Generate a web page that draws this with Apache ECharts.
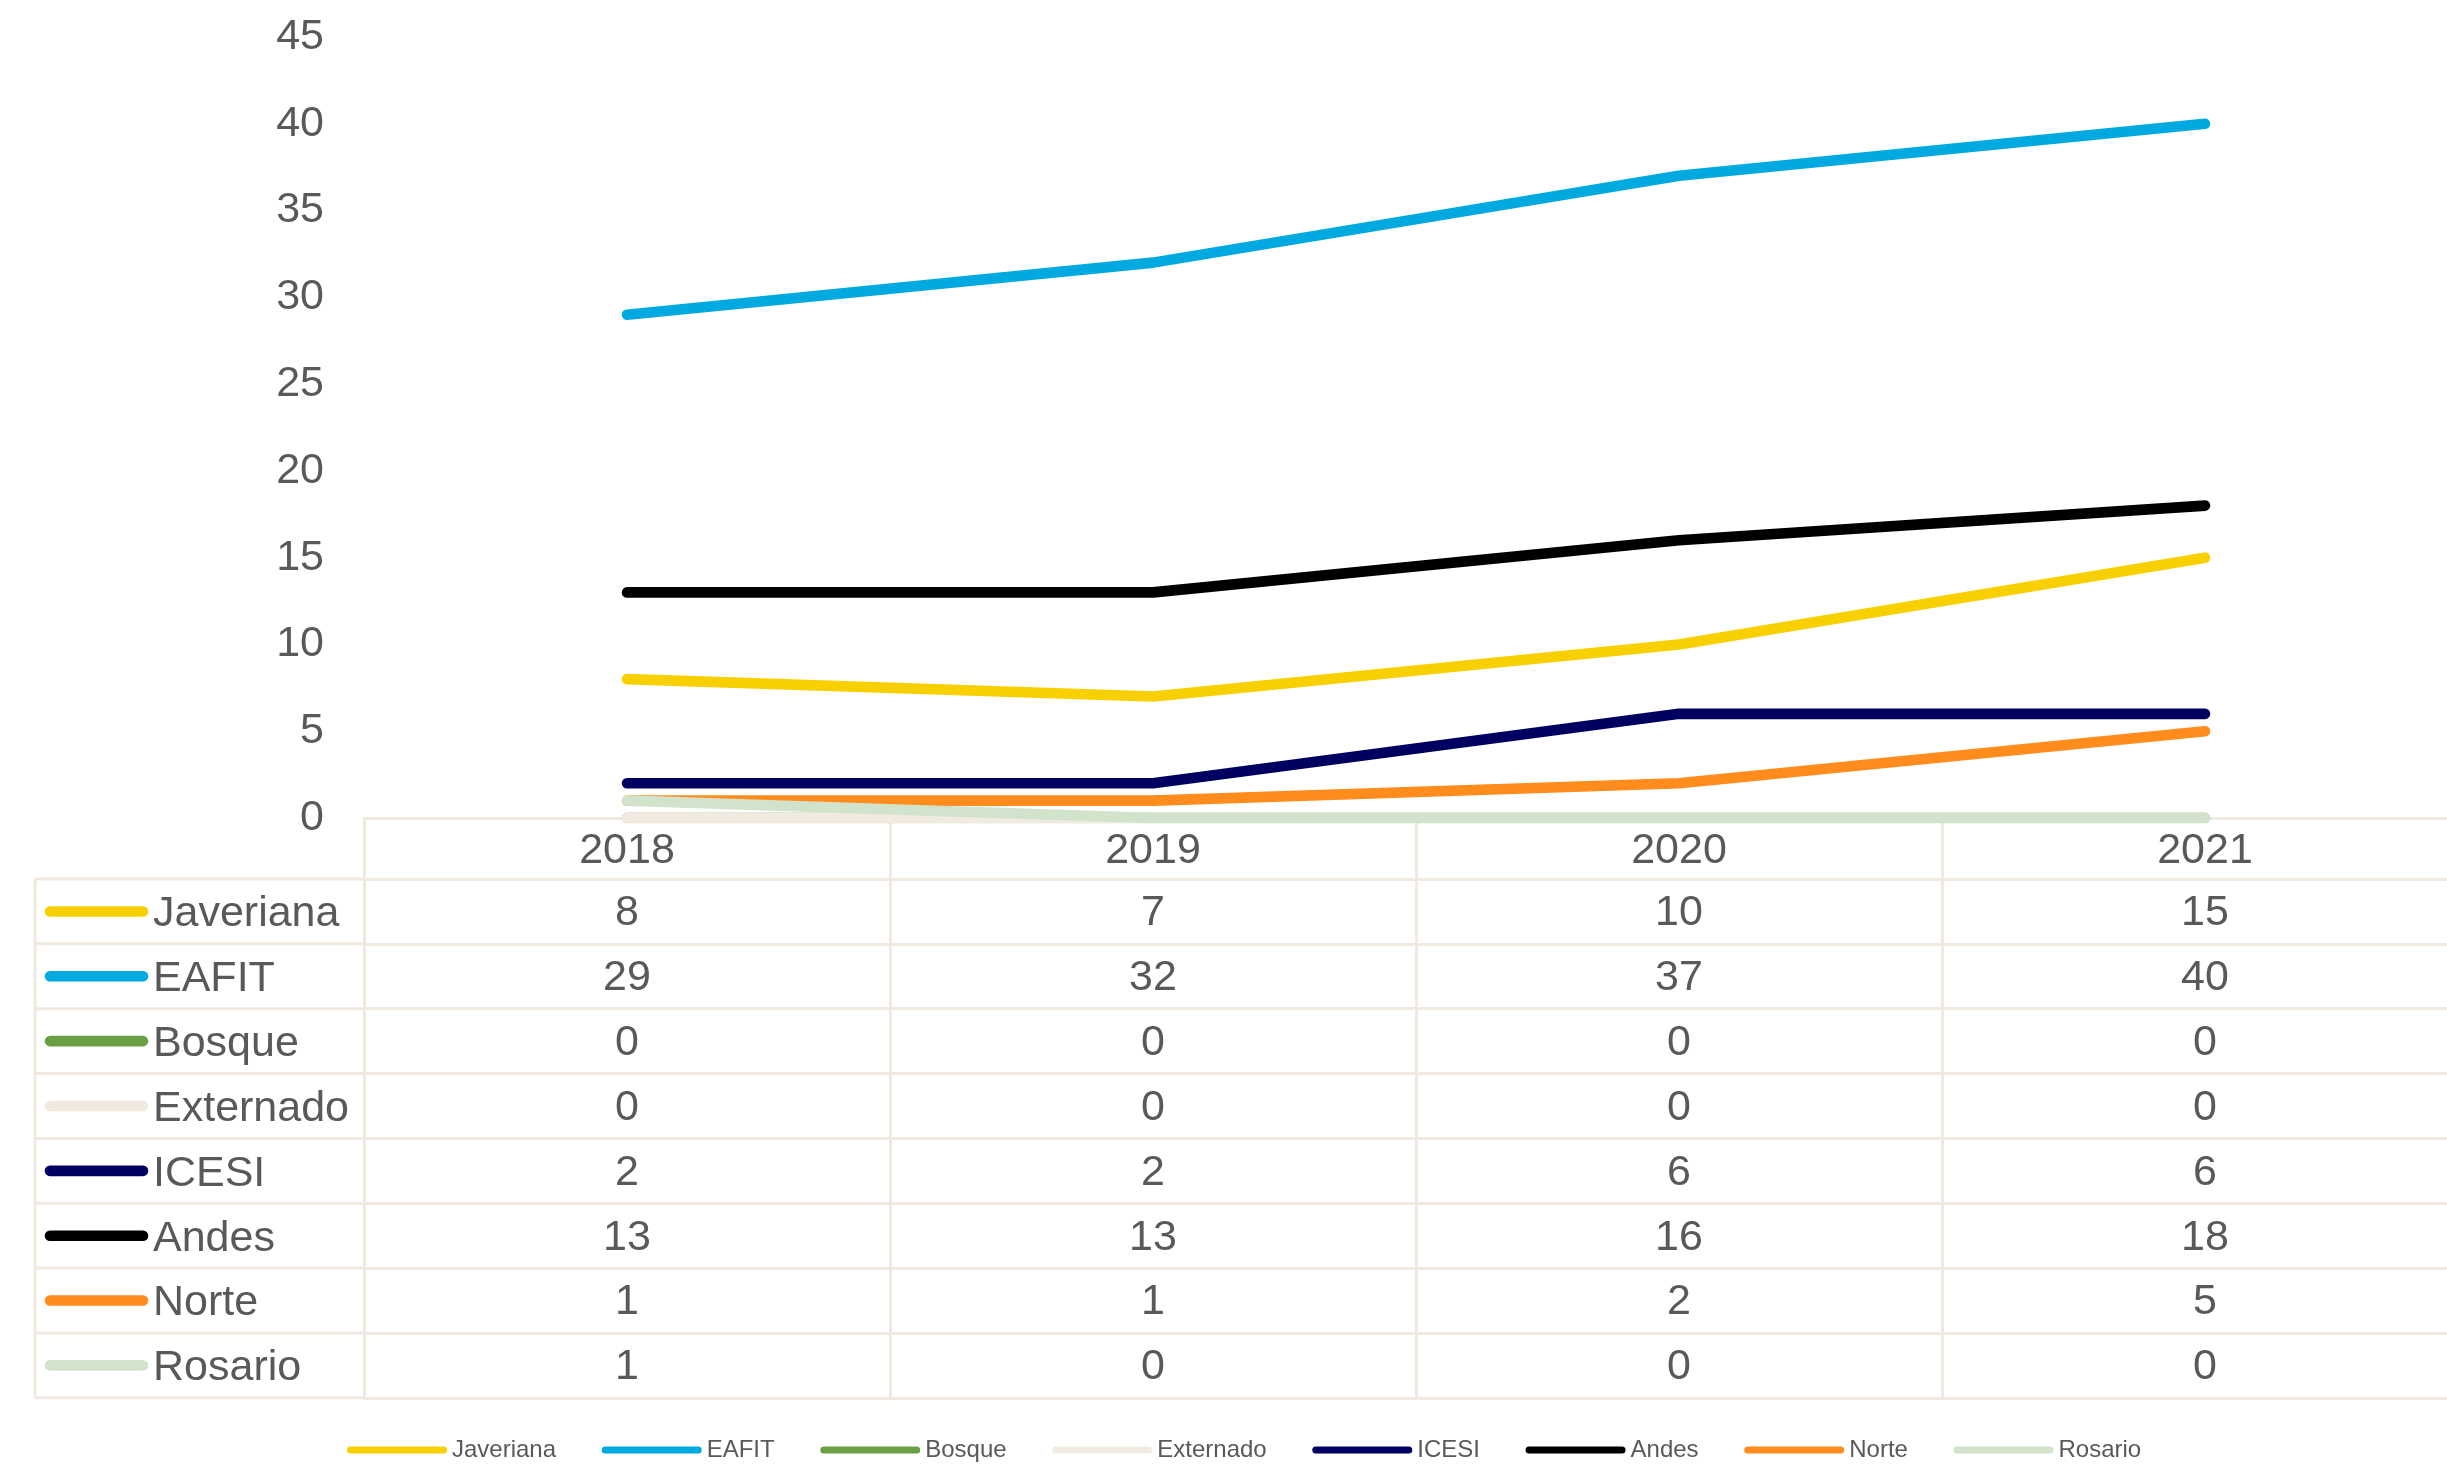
<!DOCTYPE html>
<html>
<head>
<meta charset="utf-8">
<script src="https://cdn.jsdelivr.net/npm/echarts@6/dist/echarts.min.js"></script>
<style>
html,body{margin:0;padding:0;background:#fff;}
#chart{width:2447px;height:1464px;}
</style>
</head>
<body>
<div id="chart"></div>
<script>
// ---- data ----
const years = ['2018', '2019', '2020', '2021'];
const names = ['Javeriana', 'EAFIT', 'Bosque', 'Externado', 'ICESI', 'Andes', 'Norte', 'Rosario'];
const javeriana = [8, 7, 10, 15];
const eafit = [29, 32, 37, 40];
const bosque = [0, 0, 0, 0];
const externado = [0, 0, 0, 0];
const icesi = [2, 2, 6, 6];
const andes = [13, 13, 16, 18];
const norte = [1, 1, 2, 5];
const rosario = [1, 0, 0, 0];
const yMin = 0, yMax = 45, yStep = 5;

const seriesValues = [javeriana, eafit, bosque, externado, icesi, andes, norte, rosario];
const colors = ['#F8D000', '#00A9E0', '#6A9F46', '#F0EAE0', '#000060', '#000000', '#FF8C1C', '#D1E3CB'];

// ---- layout / style ----
const FONT = '"Liberation Sans", Arial, sans-serif';
const FS = 43;
const TXT = '#595959';
const GRIDC = '#EFE9DF';
const GRID_LEFT = 364, GRID_TOP = 37, BAND = 526, PLOT_H = 781;
const HEADER_H = 61, ROW_H = 64.85, TABLE_LEFT = 35;
const LINE_W = 10.6;

const chart = echarts.init(document.getElementById('chart'), null, { renderer: 'canvas' });

const xAxes = [{
  type: 'category', data: years, position: 'bottom', gridIndex: 0, boundaryGap: true,
  axisLine: { show: true, onZero: false, lineStyle: { color: GRIDC, width: 3 } },
  axisTick: { show: true, interval: 0, alignWithLabel: false, length: HEADER_H, lineStyle: { color: GRIDC, width: 3 } },
  axisLabel: { show: true, interval: 0, margin: HEADER_H / 2 + 3, verticalAlign: 'middle', fontSize: FS, color: TXT, fontFamily: FONT },
  splitLine: { show: false }
}];
seriesValues.forEach((vals, i) => {
  xAxes.push({
    type: 'category', data: years, position: 'bottom', gridIndex: 0, boundaryGap: true,
    offset: HEADER_H + i * ROW_H,
    axisLine: { show: true, onZero: false, lineStyle: { color: GRIDC, width: 3 } },
    axisTick: { show: true, interval: 0, alignWithLabel: false, length: ROW_H, lineStyle: { color: GRIDC, width: 3 } },
    axisLabel: { show: true, interval: 0, margin: ROW_H / 2 + 2, verticalAlign: 'middle', fontSize: FS, color: TXT, fontFamily: FONT,
      formatter: (v, idx) => String(vals[idx]) },
    splitLine: { show: false }
  });
});
xAxes.push({
  type: 'category', data: years, position: 'bottom', gridIndex: 0, boundaryGap: true,
  offset: HEADER_H + seriesValues.length * ROW_H,
  axisLine: { show: true, onZero: false, lineStyle: { color: GRIDC, width: 3 } },
  axisTick: { show: false }, axisLabel: { show: false }, splitLine: { show: false }
});

// left column of the data table
const graphics = [];
const tableBottom = GRID_TOP + PLOT_H + HEADER_H + names.length * ROW_H;
for (let i = 0; i <= names.length; i++) {
  const y = GRID_TOP + PLOT_H + HEADER_H + i * ROW_H;
  graphics.push({ type: 'line', silent: true, z: 1,
    shape: { x1: TABLE_LEFT, y1: y, x2: GRID_LEFT, y2: y },
    style: { stroke: GRIDC, lineWidth: 3 } });
}
graphics.push({ type: 'line', silent: true, z: 1,
  shape: { x1: TABLE_LEFT, y1: GRID_TOP + PLOT_H + HEADER_H, x2: TABLE_LEFT, y2: tableBottom },
  style: { stroke: GRIDC, lineWidth: 3 } });
names.forEach((n, i) => {
  const cy = GRID_TOP + PLOT_H + HEADER_H + i * ROW_H + ROW_H / 2;
  graphics.push({ type: 'line', silent: true, z: 2,
    shape: { x1: 50, y1: cy, x2: 143, y2: cy },
    style: { stroke: colors[i], lineWidth: LINE_W, lineCap: 'round' } });
  graphics.push({ type: 'text', silent: true, z: 2, x: 153, y: cy + 3,
    style: { text: n, fill: TXT, font: FS + 'px ' + FONT, align: 'left', verticalAlign: 'middle',
      textAlign: 'left', textVerticalAlign: 'middle' } });
});

const pill = 'path://M3.5,0 L96.5,0 A3.5,3.5 0 0 1 96.5,7 L3.5,7 A3.5,3.5 0 0 1 3.5,0 Z';

chart.setOption({
  animation: false,
  backgroundColor: '#ffffff',
  textStyle: { fontFamily: FONT },
  grid: { left: GRID_LEFT, top: GRID_TOP, width: BAND * years.length, height: PLOT_H, containLabel: false, outerBoundsMode: 'none' },
  xAxis: xAxes,
  yAxis: {
    type: 'value', min: yMin, max: yMax, interval: yStep,
    axisLine: { show: false }, axisTick: { show: false }, splitLine: { show: false },
    axisLabel: { fontSize: FS, color: TXT, margin: 40, fontFamily: FONT }
  },
  legend: {
    data: names, left: 342, top: 1433, orient: 'horizontal',
    icon: pill, itemWidth: 100, itemHeight: 7, itemGap: 45.6,
    textStyle: { fontSize: 24, color: TXT, fontFamily: FONT },
    selectedMode: false
  },
  series: names.map((n, i) => ({
    name: n, type: 'line', xAxisIndex: 0, yAxisIndex: 0,
    data: seriesValues[i], symbol: 'none', showSymbol: false,
    lineStyle: { color: colors[i], width: LINE_W, cap: 'round', join: 'round' },
    itemStyle: { color: colors[i] },
    emphasis: { disabled: true }, silent: true, z: 3
  })),
  graphic: graphics
});
</script>
</body>
</html>
